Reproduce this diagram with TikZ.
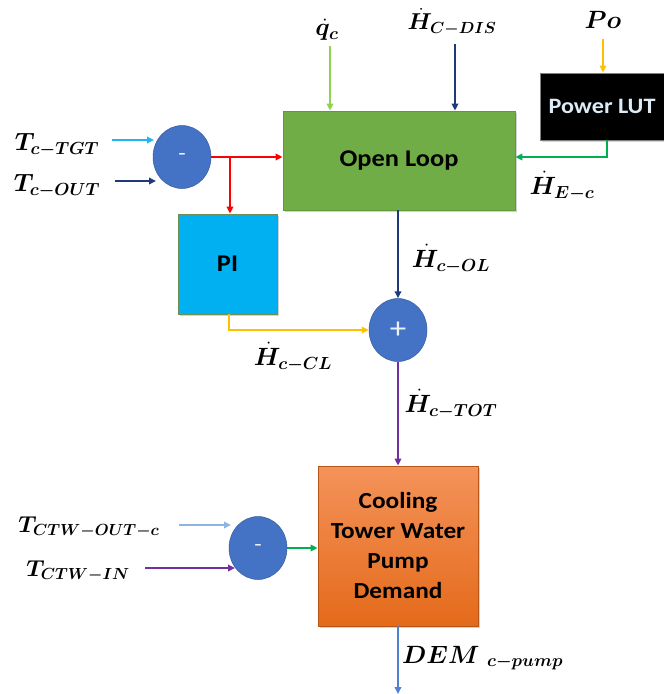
\RequirePackage{fix-cm}
\documentclass[tikz,border=0pt]{standalone}
\usepackage{fontspec}
\usepackage{amsmath,bm}
\newfontfamily\calib[FakeStretch=1.1]{Carlito}
\usetikzlibrary{arrows.meta,shapes.geometric,shadows}
\definecolor{olgreen}{HTML}{70AD47}
\definecolor{olgreenB}{HTML}{5E9A3A}
\definecolor{piblue}{HTML}{00B0F0}
\definecolor{circblue}{HTML}{4472C4}
\definecolor{orTop}{HTML}{F4935A}
\definecolor{orBot}{HTML}{E46A1A}
\definecolor{arRed}{HTML}{FF0000}
\definecolor{arYel}{HTML}{FFC000}
\definecolor{arNavy}{HTML}{1F3A7A}
\definecolor{arLgreen}{HTML}{92D050}
\definecolor{arGreen}{HTML}{00B050}
\definecolor{arSky}{HTML}{20B6F0}
\definecolor{arPeri}{HTML}{8EB4E3}
\definecolor{arPurp}{HTML}{7030A0}
\definecolor{arBlue}{HTML}{4F81D0}
\definecolor{lutTxt}{HTML}{DDEBF7}
\begin{document}
\begin{tikzpicture}[x=1pt,y=-1pt,
  conn/.style={line width=2.2pt,-{Triangle[length=7pt,width=6.5pt]}},
  blockbox/.style={draw,line width=0.8pt,inner sep=0pt,font=\calib\bfseries,
    drop shadow={shadow xshift=2pt,shadow yshift=-2pt,opacity=0.35}},
  sumnode/.style={ellipse,fill=circblue,draw=circblue!80!black,line width=0.5pt,
    minimum width=58pt,minimum height=63pt,inner sep=0pt,text=white!90!circblue,font=\calib\fontsize{22}{22}\selectfont},
  lab/.style={inner sep=0pt,font=\fontsize{25}{27}\selectfont},
  labs/.style={inner sep=0pt,font=\fontsize{23}{25}\selectfont}
]
\useasboundingbox (0,0) rectangle (664,694);

% blocks
\node[blockbox,fill=olgreen,draw=olgreenB,minimum width=232pt,minimum height=99pt,
  font=\calib\bfseries\fontsize{24}{26}\selectfont] (ol) at (399,160.5) {Open Loop};
\node[blockbox,fill=black,draw=gray,minimum width=128pt,minimum height=67pt,
  text=lutTxt,font=\calib\bfseries\fontsize{22}{24}\selectfont] (lut) at (604,106.5) {\hspace*{-4pt}Power LUT};
\node[blockbox,fill=piblue,draw=olgreenB!60!gray,minimum width=99pt,minimum height=100pt,
  font=\calib\bfseries\fontsize{24}{26}\selectfont] (pi) at (227.5,264) {PI};
\node[blockbox,draw=orBot!80!black,top color=orTop,bottom color=orBot,minimum width=160pt,minimum height=160pt,
  align=center,font=\calib\bfseries\fontsize{23}{30}\selectfont] (ct) at (398,546) {Cooling\\Tower Water\\Pump\\Demand};

% sum nodes
\node[sumnode] (s1) at (182,157) {-};
\node[sumnode,font=\calib\fontsize{30}{30}\selectfont] (s2) at (398,330) {+};
\node[sumnode] (s3) at (258,548) {-};

% labels
\node[lab] (lTtgt) at (57,145) {$\bm{T_{c-TGT}}$};
\node[lab] (lTout) at (57,186) {$\bm{T_{c-OUT}}$};
\node[lab] (lqc) at (327,30) {$\bm{\dot{q}_{c}}$};
\node[labs] (lhdis) at (452,22) {$\bm{\dot{H}_{C-DIS}}$};
\node[lab] (lpo) at (603,20) {$\bm{Po}$};
\node[lab] (lhec) at (562,186) {$\bm{\dot{H}_{E-c}}$};
\node[lab] (lhol) at (451,259) {$\bm{\dot{H}_{c-OL}}$};
\node[lab] (lhcl) at (293,357) {$\bm{\dot{H}_{c-CL}}$};
\node[lab] (lhtot) at (451,404) {$\bm{\dot{H}_{c-TOT}}$};
\node[labs] (lctwo) at (89,527) {$\bm{T_{CTW-OUT-c}}$};
\node[labs] (lctwi) at (78,571) {$\bm{T_{CTW-IN}}$};
\node[lab,anchor=west] (ldem) at (402,658) {$\bm{DEM}\ \bm{_{c-pump}}$};

% coordinates for free ends
\coordinate (aTtgt) at (112,140);
\coordinate (aTout) at (115,181);
\coordinate (aqc) at (330,46);
\coordinate (ahdis) at (455,44);
\coordinate (apo) at (603,39);
\coordinate (aCtwo) at (179,525);
\coordinate (aCtwi) at (145,568);
\coordinate (dem) at (398,694);
\coordinate (br) at (230,157);

% connectors
\draw[conn,arSky] (aTtgt) -- (154,140);
\draw[conn,arNavy] (aTout) -- (156,181);
\draw[conn,arLgreen] (aqc) -- (aqc |- ol.north);
\draw[conn,arNavy] (ahdis) -- (ahdis |- ol.north);
\draw[conn,arYel] (apo) -- (apo |- lut.north);
\draw[conn,arRed] (s1.east) -- (s1.east -| ol.west);
\draw[conn,arRed] (br) -- (br |- pi.north);
\draw[conn,arGreen] (lut.south -| 607,0) -- (607,157) -- (ol.east |- 0,157);
\draw[conn,arNavy] (ol.south -| s2) -- (s2.north);
\draw[conn,arYel] (pi.south -| 229,0) -- (229,330) -- (s2.west);
\draw[conn,arPurp] (s2.south) -- (ct.north);
\draw[conn,arPeri] (aCtwo) -- (231,525);
\draw[conn,arPurp] (aCtwi) -- (235,568);
\draw[conn,arGreen] (s3.east) -- (ct.west |- s3.east);
\draw[conn,arBlue] (ct.south) -- (dem);
\end{tikzpicture}
\end{document}
